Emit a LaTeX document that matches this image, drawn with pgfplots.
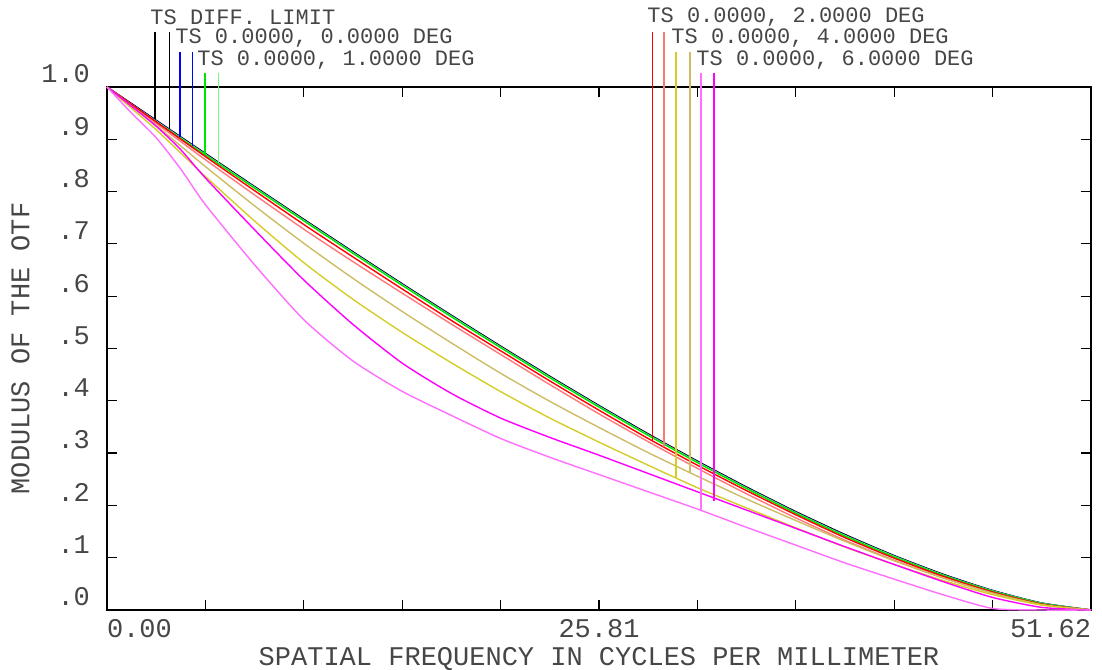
\documentclass[border=0pt]{standalone}
\usepackage{pgfplots}
\usepackage{pgfplotstable}
\pgfplotsset{compat=1.18}
\usepackage{fontspec}
\newfontfamily\zfont{Liberation Mono}
\definecolor{txt}{RGB}{70,70,70}
\definecolor{zblue}{RGB}{0,0,255}
\definecolor{zgreen}{RGB}{0,230,0}
\definecolor{zlgreen}{RGB}{120,250,120}
\definecolor{zred}{RGB}{255,0,0}
\definecolor{zsalmon}{RGB}{255,120,120}
\definecolor{zyellow}{RGB}{212,205,40}
\definecolor{ztan}{RGB}{205,188,100}
\definecolor{zmag}{RGB}{255,0,255}
\definecolor{zpink}{RGB}{255,110,255}

\pgfplotstableread{
f      dl     blue   ga     gb     ra     rb     ya     yb     ma     mb
0      1      1      1      1      1      1      1      1      1      1
1.2905 .9682  .9675  .9657  .9667  .9667  .9652  .9632  .9592  .963   .950
2.581  .9364  .9354  .9334  .9344  .9334  .9304  .9264  .9184  .925   .903
3.8715 .9046  .9032  .9016  .9026  .9001  .8956  .8871  .8736  .880   .843
5.162  .8729  .8714  .8699  .8709  .8669  .8609  .8479  .8289  .826   .775
7.743  .8097  .8082  .8067  .8077  .8017  .7937  .7727  .7437  .727   .660
10.324 .7471  .7456  .7441  .7451  .7371  .7281  .7011  .6641  .631   .555
12.905 .6850  .6835  .6820  .6830  .6750  .6660  .6340  .5940  .546   .476
15.486 .6238  .6223  .6208  .6218  .6138  .6058  .5708  .5308  .472   .418
18.067 .5636  .5621  .5606  .5616  .5536  .5466  .5106  .4726  .414   .372
20.648 .5046  .5031  .5016  .5026  .4956  .4886  .4526  .4176  .367   .328
23.229 .4470  .4455  .4440  .4450  .4380  .4310  .3990  .3670  .330   .292
25.81  .3910  .3895  .3880  .3890  .3820  .3750  .3490  .3210  .296   .259
28.391 .3368  .3353  .3338  .3348  .3278  .3218  .3008  .2768  .261   .226
30.972 .2848  .2833  .2818  .2828  .2768  .2708  .2558  .2338  .226   .193
33.553 .2351  .2336  .2321  .2331  .2281  .2221  .2121  .1951  .191   .158
36.134 .1881  .1866  .1851  .1861  .1821  .1761  .1711  .1571  .156   .124
38.715 .1443  .1428  .1413  .1423  .1383  .1333  .1313  .1203  .121   .090
41.296 .1041  .1031  .1016  .1026  .0991  .0951  .0941  .0871  .087   .059
43.877 .0682  .0672  .0662  .0667  .0642  .0612  .0612  .0562  .054   .029
46.458 .0374  .0369  .0359  .0364  .0344  .0324  .0324  .0294  .024   .003
49.039 .0133  .0130  .0125  .0128  .0113  .0103  .0103  .0093  .005   0
51.62  0      0      0      0      0      0      0      0      0      0
}\mtf

\begin{document}
\begin{tikzpicture}
\useasboundingbox (0,0) rectangle (551pt,334.5pt);
\begin{axis}[
  at={(53.5pt,29.5pt)}, anchor=south west,
  width=492pt, height=261.5pt, scale only axis,
  xmin=0, xmax=51.62, ymin=0, ymax=1,
  clip=false,
  axis line style={black, line width=0.75pt},
  xtick={0,5.162,10.324,15.486,20.648,25.81,30.972,36.134,41.296,46.458,51.62},
  xticklabels={\rlap{0.00},,,,,25.81,,,,,\llap{51.62}},
  ytick={0,0.1,0.2,0.3,0.4,0.5,0.6,0.7,0.8,0.9,1.0},
  yticklabels={.0,.1,.2,.3,.4,.5,.6,.7,.8,.9,1.0},
  tick align=inside, major tick length=5pt,
  tick style={black, line width=0.6pt},
  every tick label/.append style={font=\zfont\fontsize{13.5}{13.5}\selectfont, text=txt},
  xticklabel style={anchor=center, yshift=-9.5pt},
  yticklabel style={anchor=east, xshift=-5pt, yshift=6.5pt},
  xlabel={SPATIAL FREQUENCY IN CYCLES PER MILLIMETER},
  ylabel={MODULUS OF THE OTF},
  label style={font=\zfont\fontsize{13.5}{13.5}\selectfont, text=txt},
  xlabel style={at={(axis description cs:0.5,-0.0935)}, anchor=center},
  ylabel style={at={(axis description cs:-0.088,0.5)}, anchor=center},
  every axis plot/.append style={line width=0.7pt},
]
% curves
\addplot[black, smooth, tension=0.4] table[x=f,y=dl]{\mtf};
\addplot[zblue, smooth, tension=0.4] table[x=f,y=blue]{\mtf};
\addplot[zlgreen, smooth, tension=0.4] table[x=f,y=gb]{\mtf};
\addplot[zgreen, smooth, tension=0.4] table[x=f,y=ga]{\mtf};
\addplot[zsalmon, smooth, tension=0.4] table[x=f,y=rb]{\mtf};
\addplot[zred, smooth, tension=0.4] table[x=f,y=ra]{\mtf};
\addplot[ztan, smooth, tension=0.4] table[x=f,y=ya]{\mtf};
\addplot[zyellow, smooth, tension=0.4] table[x=f,y=yb]{\mtf};
\addplot[zmag, smooth, tension=0.4] table[x=f,y=ma]{\mtf};
\addplot[zpink, smooth, tension=0.4] table[x=f,y=mb]{\mtf};
% legend marker lines
\addplot[black] coordinates {(2.518,0.9379) (2.518,1.1057)};
\addplot[black] coordinates {(3.268,0.9194) (3.268,1.1057)};
\addplot[zblue] coordinates {(3.829,0.9040) (3.829,1.0675)};
\addplot[zblue] coordinates {(4.496,0.8877) (4.496,1.0675)};
\addplot[zgreen] coordinates {(5.141,0.8704) (5.141,1.0262)};
\addplot[zlgreen] coordinates {(5.835,0.8544) (5.835,1.0262)};
\addplot[zred] coordinates {(28.61,0.3235) (28.61,1.1057)};
\addplot[zsalmon] coordinates {(29.22,0.3115) (29.22,1.1057)};
\addplot[zyellow] coordinates {(29.84,0.2527) (29.84,1.0675)};
\addplot[ztan] coordinates {(30.58,0.2625) (30.58,1.0675)};
\addplot[zpink] coordinates {(31.16,0.1905) (31.16,1.0262)};
\addplot[zmag] coordinates {(31.84,0.2080) (31.84,1.0262)};
% legend texts
\begin{scope}[every node/.style={font=\zfont\fontsize{11}{11}\selectfont, text=txt, anchor=west, inner sep=0pt}]
\node at (axis cs:2.256,1.1338) {TS DIFF. LIMIT};
\node at (axis cs:3.567,1.0937) {TS 0.0000, 0.0000 DEG};
\node at (axis cs:4.721,1.0516) {TS 0.0000, 1.0000 DEG};
\node at (axis cs:28.33,1.1338) {TS 0.0000, 2.0000 DEG};
\node at (axis cs:29.59,1.0937) {TS 0.0000, 4.0000 DEG};
\node at (axis cs:30.90,1.0516) {TS 0.0000, 6.0000 DEG};
\end{scope}
\end{axis}
\end{tikzpicture}
\end{document}
